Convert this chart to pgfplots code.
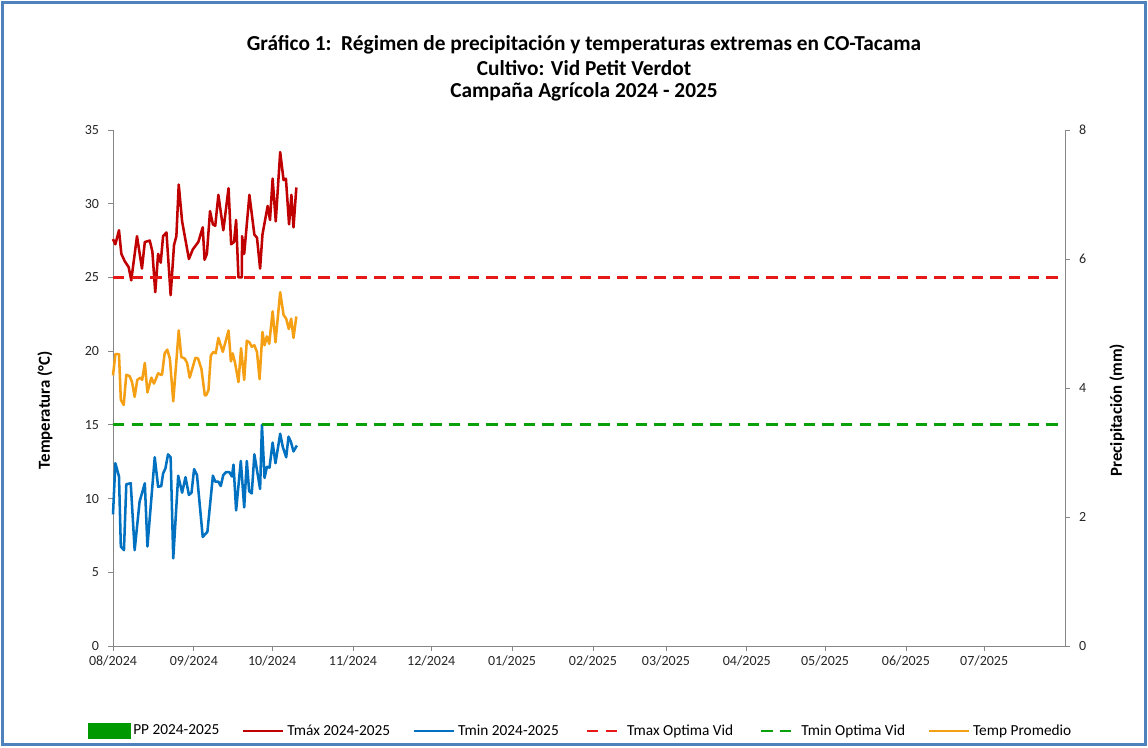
\documentclass[border=0pt]{standalone}
\usepackage{pgfplots}
\pgfplotsset{compat=1.18}
\usepackage{fontspec}
\setmainfont{Carlito}
\definecolor{tmaxcol}{RGB}{192,0,0}
\definecolor{tmincol}{RGB}{0,112,192}
\definecolor{tavgcol}{RGB}{245,160,20}
\definecolor{optmaxcol}{RGB}{230,25,25}
\definecolor{optmincol}{RGB}{10,160,10}
\definecolor{ppcol}{RGB}{0,153,0}
\definecolor{framecol}{RGB}{79,129,189}
\definecolor{axcol}{RGB}{134,134,134}
\pgfplotsset{dashlegend/.style={legend image code/.code={\draw[##1, dash phase=11pt] (0pt,0pt) -- (30pt,0pt);}}}
\begin{document}
\begin{tikzpicture}
\useasboundingbox (0,0) rectangle (861pt,560.25pt);
\draw[line width=2.6pt, framecol] (2pt,2pt) rectangle (859pt,558.25pt);
\node[font=\fontsize{16}{19}\selectfont\bfseries] at (438pt,526.5pt) {Gráfico 1:\ \ Régimen de precipitación y temperaturas extremas en CO-Tacama};
\node[font=\fontsize{16}{19}\selectfont\bfseries] at (438pt,509.25pt) {Cultivo: Vid Petit Verdot};
\node[font=\fontsize{16}{19}\selectfont\bfseries] at (438pt,491.25pt) {Campaña Agrícola 2024 - 2025};
\begin{axis}[
  at={(84.75pt,75.75pt)}, anchor=south west,
  width=714pt, height=387pt, scale only axis,
  xmin=0, xmax=365, ymin=0, ymax=35,
  axis x line*=bottom, axis y line*=left,
  axis line style={axcol, line width=0.75pt, -},
  tick style={axcol, line width=0.6pt},
  tick align=outside, major tick length=3.5pt,
  xtick={0,31,61,92,122,153,184,212,243,273,304,334},
  xticklabels={08/2024,09/2024,10/2024,11/2024,12/2024,01/2025,02/2025,03/2025,04/2025,05/2025,06/2025,07/2025},
  ytick={0,5,10,15,20,25,30,35},
  ticklabel style={font=\fontsize{10.5}{12}\selectfont, text=black!85},
  yticklabel style={xshift=-3.5pt},
  /pgf/number format/assume math mode=true,
  ylabel={Temperatura (°C)},
  ylabel style={at={(axis description cs:-0.0714,0.457)}, anchor=center, font=\fontsize{12.6}{14}\selectfont\bfseries},
  legend columns=6,
  legend style={at={(axis description cs:0.4916,-0.1647)}, anchor=center, draw=none, fill=none,
    font=\fontsize{11.5}{13}\selectfont, inner sep=0pt,
    /tikz/every even column/.append style={column sep=15pt}},
  legend image code/.code={\draw[#1] (0pt,0pt) -- (30pt,0pt);},
  clip=false,
]
\addlegendimage{legend image code/.code={\fill[ppcol] (-1pt,-5.5pt) rectangle (30.5pt,5.5pt);}}
\addlegendentry{PP 2024-2025}
\addplot[tmaxcol, line width=1.9pt, line join=round] coordinates {
(0,27.6) (0.9,27.25) (2.3,28.2) (3.2,26.6) (4.5,26.1) (6.0,25.7) (7.0,24.8) (9.2,27.8) (11.1,25.6) (12.2,27.4) (14.1,27.5) (15.1,26.75) (16.2,24.0) (17.3,26.6) (18.3,26.0) (19.2,27.8) (20.5,28.05) (22.1,23.8) (23.4,27.2) (24.3,27.8) (25.2,31.3) (26.5,28.8) (29.1,26.25) (30.6,26.9) (32.7,27.4) (34.4,28.4) (35.1,26.2) (36.0,26.6) (37.2,29.5) (38.3,28.6) (39.2,28.5) (40.4,30.6) (42.3,28.2) (44.3,31.05) (45.3,27.25) (46.4,27.4) (47.2,28.9) (48.1,25.0) (49.4,25.0) (49.5,27.8) (50.3,26.6) (52.3,30.6) (54.2,27.9) (55.2,27.7) (56.4,25.6) (57.3,27.9) (59.3,29.85) (60.2,28.9) (61.2,31.7) (62.4,28.8) (64.1,33.5) (65.4,31.6) (66.3,31.7) (67.5,28.6) (68.4,30.6) (69.2,28.4) (70.3,31.1)
};
\addlegendentry{Tmáx 2024-2025}
\addplot[tmincol, line width=1.9pt, line join=round] coordinates {
(0,8.93) (0.9,12.4) (2.3,11.5) (3.0,6.75) (4.2,6.5) (5.1,10.97) (6.8,11.04) (8.3,6.5) (10.2,9.8) (12.2,11.04) (13.2,6.75) (16.0,12.8) (17.3,10.8) (18.5,10.85) (19.2,11.7) (20.1,12.05) (21.1,13.0) (22.1,12.8) (23.1,5.95) (25.0,11.55) (26.5,10.4) (27.8,11.45) (29.1,10.25) (30.1,10.4) (31.1,12.0) (32.2,11.6) (34.4,7.4) (36.2,7.75) (38.3,11.55) (39.2,11.15) (40.4,11.15) (41.3,10.85) (42.3,11.6) (43.4,11.8) (44.6,11.8) (45.6,11.5) (46.2,12.3) (47.2,9.2) (49.0,12.55) (50.3,9.4) (51.3,12.55) (52.2,10.5) (53.2,10.35) (54.2,13.0) (56.4,10.65) (57.1,15.0) (58.1,11.4) (59.0,12.15) (60.0,12.1) (61.2,13.8) (62.3,12.4) (64.1,14.4) (65.1,13.5) (66.4,12.8) (67.3,14.2) (68.2,13.85) (69.2,13.2) (70.5,13.6)
};
\addlegendentry{Tmin 2024-2025}
\addplot[optmaxcol, line width=2.2pt, dash pattern=on 8.5pt off 5.5pt, dashlegend] coordinates {(0,25) (365,25)};
\addlegendentry{Tmax Optima Vid}
\addplot[optmincol, line width=2.2pt, dash pattern=on 8.5pt off 5.5pt, dashlegend] coordinates {(0,15) (365,15)};
\addlegendentry{Tmin Optima Vid}
\addplot[tavgcol, line width=1.9pt, line join=round] coordinates {
(0,18.35) (0.9,19.8) (2.3,19.8) (3.0,16.7) (4.1,16.35) (5.1,18.4) (6.4,18.3) (7.3,17.9) (8.3,16.9) (9.3,18.05) (10.5,18.2) (11.2,18.05) (12.2,19.2) (13.2,17.2) (14.7,18.2) (15.7,17.8) (16.4,18.1) (17.3,18.5) (18.3,18.4) (18.8,18.4) (19.8,19.85) (20.8,20.1) (21.8,19.5) (23.1,16.6) (25.2,21.4) (26.2,19.6) (27.5,19.5) (28.4,19.2) (29.4,18.2) (31.6,19.55) (32.6,19.5) (33.9,18.8) (35.2,17.0) (35.7,17.0) (36.6,17.35) (37.5,19.7) (38.5,19.95) (39.4,19.85) (40.4,20.9) (42.1,19.95) (44.3,21.4) (45.2,19.3) (45.9,19.85) (46.8,19.2) (48.1,17.9) (49.1,20.2) (50.3,18.05) (51.3,20.7) (52.3,20.6) (53.2,20.3) (54.2,20.4) (55.2,19.95) (56.2,18.1) (57.3,21.3) (58.1,20.4) (59.0,21.0) (59.9,20.5) (61.2,22.7) (62.3,20.6) (64.1,24.0) (65.4,22.45) (66.4,22.2) (67.4,21.5) (68.3,22.2) (69.2,20.9) (70.3,22.35)
};
\addlegendentry{Temp Promedio}
\end{axis}
\begin{axis}[
  at={(84.75pt,75.75pt)}, anchor=south west,
  width=714pt, height=387pt, scale only axis,
  xmin=0, xmax=365, ymin=0, ymax=8,
  axis x line=none, axis y line*=right,
  axis line style={axcol, line width=0.75pt, -},
  tick style={axcol, line width=0.6pt},
  tick align=outside, major tick length=3.5pt,
  ytick={0,2,4,6,8},
  ticklabel style={font=\fontsize{10.5}{12}\selectfont, text=black!85},
  yticklabel style={xshift=3.5pt},
  /pgf/number format/assume math mode=true,
  ylabel={Precipitación (mm)},
  ylabel style={at={(axis description cs:1.0546,0.457)}, anchor=center, font=\fontsize{12.6}{14}\selectfont\bfseries},
]
\end{axis}
\end{tikzpicture}
\end{document}
